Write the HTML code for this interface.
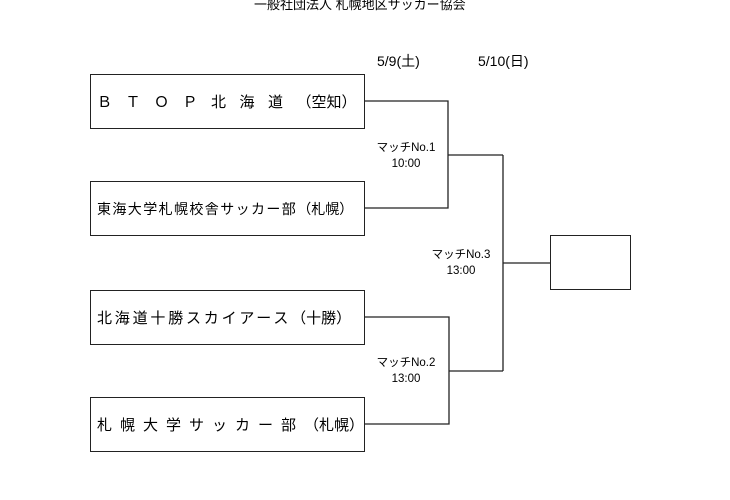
<!DOCTYPE html>
<html><head><meta charset="utf-8"><style>
body{margin:0;width:730px;height:500px;background:#fff;position:relative;overflow:hidden;font-family:"Liberation Sans","Noto Sans CJK JP",sans-serif;color:#000}
.t{position:absolute;white-space:nowrap}
.box{position:absolute;border:1.5px solid #222;box-sizing:border-box;background:#fff}
.name{position:absolute;left:6px;top:0;bottom:0;display:flex;align-items:center;font-size:15px;white-space:nowrap}
.lbl{position:absolute;text-align:center;font-size:11.5px;line-height:16px;width:80px}
svg{position:absolute;left:0;top:0}
</style></head><body>
<div class="t" style="left:254px;top:-6px;font-size:13px;">一般社団法人 札幌地区サッカー協会</div>
<div class="t" style="left:377px;top:51px;font-size:14px;">5/9(土)</div>
<div class="t" style="left:478px;top:51px;font-size:14px;">5/10(日)</div>
<svg width="730" height="500">
<g stroke="#222" stroke-width="1.3" fill="none">
<polyline points="364,101 448,101 448,208 364,208"/>
<line x1="448" y1="155" x2="503" y2="155"/>
<polyline points="364,317 449,317 449,424 364,424"/>
<line x1="449" y1="371" x2="503" y2="371"/>
<line x1="503" y1="155" x2="503" y2="371"/>
<line x1="503" y1="263" x2="550" y2="263"/>
</g></svg>
<div class="box" style="left:90px;top:74px;width:275px;height:55px"><div class="name" style="letter-spacing:13.5px">ＢＴＯＰ北海道<span style="letter-spacing:0">（空知）</span></div></div>
<div class="box" style="left:90px;top:181px;width:275px;height:55px"><div class="name" style="font-size:14px;letter-spacing:1.4px">東海大学札幌校舎サッカー部<span style="letter-spacing:0">（札幌）</span></div></div>
<div class="box" style="left:90px;top:290px;width:275px;height:55px"><div class="name" style="letter-spacing:2.8px">北海道十勝スカイアース<span style="letter-spacing:0">（十勝）</span></div></div>
<div class="box" style="left:90px;top:397px;width:275px;height:55px"><div class="name" style="letter-spacing:8px">札幌大学サッカー部<span style="letter-spacing:0">（札幌）</span></div></div>
<div class="box" style="left:550px;top:235px;width:81px;height:55px"></div>
<div class="lbl" style="left:366px;top:140px">マッチNo.1<br>10:00</div>
<div class="lbl" style="left:366px;top:355px">マッチNo.2<br>13:00</div>
<div class="lbl" style="left:421px;top:247px">マッチNo.3<br>13:00</div>
</body></html>
